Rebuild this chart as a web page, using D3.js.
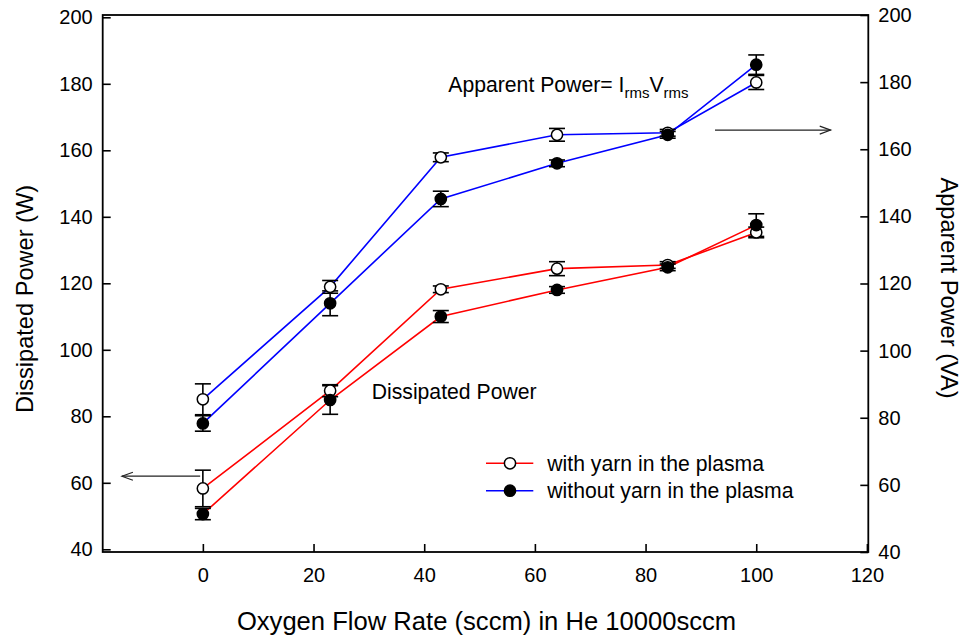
<!DOCTYPE html>
<html>
<head>
<meta charset="utf-8">
<script src="https://cdn.jsdelivr.net/npm/d3@7"></script>
<style>
  html, body { margin: 0; padding: 0; background: #fff; }
  svg { display: block; font-family: "Liberation Sans", Arial, sans-serif; }
</style>
</head>
<body>
<svg id="chart" width="966" height="636"></svg>
<script>
// Oxygen flow rate (sccm) at each measurement
const flowRates = [0, 23, 43, 64, 84, 100];

// Dissipated power (W), left axis
const dissipatedWithYarn    = [58.3, 87.7, 118.2, 124.4, 125.5, 135.3];
const dissipatedWithYarnErr = [5.5, 1.8, 1.0, 2.1, 1.0, 1.6];
const dissipatedNoYarn      = [50.6, 84.9, 110.0, 118.0, 124.8, 137.5];
const dissipatedNoYarnErr   = [1.7, 4.3, 1.8, 1.0, 1.0, 3.4];

// Apparent power (VA), right axis
const apparentWithYarn    = [85.5, 119.0, 157.6, 164.3, 164.9, 179.9];
const apparentWithYarnErr = [4.6, 1.9, 1.3, 1.9, 1.0, 2.1];
const apparentNoYarn      = [78.3, 114.1, 145.2, 155.8, 164.3, 185.2];
const apparentNoYarnErr   = [2.3, 3.7, 2.3, 1.0, 1.0, 2.9];

// Tick labels
const xTicks = [0, 20, 40, 60, 80, 100, 120];
const leftTicks = [40, 60, 80, 100, 120, 140, 160, 180, 200];
const rightTicks = [40, 60, 80, 100, 120, 140, 160, 180, 200];

const legendLabels = ["with yarn in the plasma", "without yarn in the plasma"];

const svg = d3.select("#chart");

const x = d3.scaleLinear().domain([-18.1, 120.25]).range([102.7, 868.3]);
const yL = d3.scaleLinear().domain([40, 200]).range([549.3, 17.3]);
const yR = d3.scaleLinear().domain([40, 200]).range([552, 15]);

const plotLeft = x.range()[0], plotRight = x.range()[1];
const plotTop = yR.range()[1], plotBottom = yR.range()[0];

const tickFont = "20px";
const noteFont = "21.2px";

// Axes with inward ticks
const gLeft = svg.append("g").attr("transform", `translate(${plotLeft},0)`)
  .call(d3.axisLeft(yL).tickValues(leftTicks).tickSizeInner(-8).tickSizeOuter(0).tickPadding(10));
const gRight = svg.append("g").attr("transform", `translate(${plotRight},0)`)
  .call(d3.axisRight(yR).tickValues(rightTicks).tickSizeInner(-8).tickSizeOuter(0).tickPadding(10));
const gBottom = svg.append("g").attr("transform", `translate(0,${plotBottom})`)
  .call(d3.axisBottom(x).tickValues(xTicks).tickSizeInner(-8).tickSizeOuter(0).tickPadding(16));

[gLeft, gRight, gBottom].forEach(g => {
  g.select(".domain").remove();
  g.selectAll(".tick line").attr("stroke", "#000").attr("stroke-width", 1.6);
  g.selectAll(".tick text").attr("fill", "#000").style("font-size", tickFont)
    .style("font-family", "'Liberation Sans', Arial, sans-serif");
});

// Frame
svg.append("rect")
  .attr("x", plotLeft).attr("y", plotTop)
  .attr("width", plotRight - plotLeft).attr("height", plotBottom - plotTop)
  .attr("fill", "none").attr("stroke", "#000").attr("stroke-width", 1.8);

// Axis titles
svg.append("text")
  .attr("x", 486.5).attr("y", 630)
  .attr("text-anchor", "middle")
  .style("font-size", "25.6px")
  .text("Oxygen Flow Rate (sccm) in He 10000sccm");

svg.append("text")
  .attr("transform", `translate(33,299) rotate(-90)`)
  .attr("text-anchor", "middle")
  .style("font-size", "23.6px")
  .text("Dissipated Power (W)");

svg.append("text")
  .attr("transform", `translate(941,288) rotate(90)`)
  .attr("text-anchor", "middle")
  .style("font-size", "23.6px")
  .text("Apparent Power (VA)");

// Series definitions
const series = [
  { vals: dissipatedWithYarn, err: dissipatedWithYarnErr, y: yL, color: "#ff0000", filled: false },
  { vals: dissipatedNoYarn,   err: dissipatedNoYarnErr,   y: yL, color: "#ff0000", filled: true },
  { vals: apparentWithYarn,   err: apparentWithYarnErr,   y: yR, color: "#0000ff", filled: false },
  { vals: apparentNoYarn,     err: apparentNoYarnErr,     y: yR, color: "#0000ff", filled: true }
];

const line = (ys) => d3.line().x(d => x(d.x)).y(d => ys(d.v));

// Connecting lines
series.forEach(s => {
  const pts = flowRates.map((f, i) => ({ x: f, v: s.vals[i] }));
  svg.append("path")
    .datum(pts)
    .attr("fill", "none")
    .attr("stroke", s.color)
    .attr("stroke-width", 1.6)
    .attr("d", line(s.y));
});

// Error bars
const capHalf = 8;
series.forEach(s => {
  const g = svg.append("g").attr("stroke", "#000").attr("stroke-width", 1.6);
  flowRates.forEach((f, i) => {
    const cx = x(f);
    const y1 = s.y(s.vals[i] + s.err[i]);
    const y2 = s.y(s.vals[i] - s.err[i]);
    g.append("line").attr("x1", cx).attr("x2", cx).attr("y1", y1).attr("y2", y2);
    g.append("line").attr("x1", cx - capHalf).attr("x2", cx + capHalf).attr("y1", y1).attr("y2", y1);
    g.append("line").attr("x1", cx - capHalf).attr("x2", cx + capHalf).attr("y1", y2).attr("y2", y2);
  });
});

// Markers
series.forEach(s => {
  svg.append("g").selectAll("circle")
    .data(flowRates.map((f, i) => ({ x: f, v: s.vals[i] })))
    .join("circle")
    .attr("cx", d => x(d.x))
    .attr("cy", d => s.y(d.v))
    .attr("r", 5.6)
    .attr("fill", s.filled ? "#000" : "#fff")
    .attr("stroke", "#000")
    .attr("stroke-width", 1.5);
});

// Annotations
svg.append("text")
  .attr("x", 371.7).attr("y", 399)
  .style("font-size", noteFont)
  .text("Dissipated Power");

const ap = svg.append("text")
  .attr("x", 448.3).attr("y", 91.7)
  .style("font-size", noteFont);
ap.append("tspan").text("Apparent Power= I");
ap.append("tspan").attr("dy", 6).style("font-size", "15px").text("rms");
ap.append("tspan").attr("dy", -6).text("V");
ap.append("tspan").attr("dy", 6).style("font-size", "15px").text("rms");

// Arrows pointing toward each axis
function arrow(x1, x2, y, dir) {
  const g = svg.append("g").attr("stroke", "#222").attr("stroke-width", 1.1).attr("fill", "none");
  g.append("line").attr("x1", x1).attr("x2", x2).attr("y1", y).attr("y2", y);
  const tip = dir < 0 ? x1 : x2;
  const back = tip - dir * 11;
  g.append("path").attr("d", `M${back},${y - 4}L${tip},${y}L${back},${y + 4}`);
}
arrow(x(-14.63), x(-0.49), yL(62), -1);
arrow(x(92.55), x(113.46), yR(165.7), 1);

// Legend
const legend = svg.append("g");
const legendRows = [
  { color: "#ff0000", filled: false, y: 463.3 },
  { color: "#0000ff", filled: true,  y: 490.7 }
];
legendRows.forEach((r, i) => {
  legend.append("line")
    .attr("x1", 486).attr("x2", 533.3).attr("y1", r.y).attr("y2", r.y)
    .attr("stroke", r.color).attr("stroke-width", 1.6);
  legend.append("circle")
    .attr("cx", 510).attr("cy", r.y).attr("r", 5.6)
    .attr("fill", r.filled ? "#000" : "#fff")
    .attr("stroke", "#000").attr("stroke-width", 1.5);
  legend.append("text")
    .attr("x", 547.3).attr("y", r.y + 7.5)
    .style("font-size", noteFont)
    .text(legendLabels[i]);
});
</script>
</body>
</html>
